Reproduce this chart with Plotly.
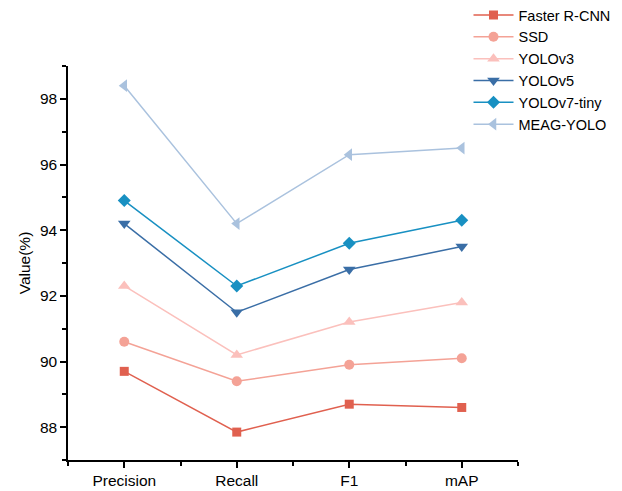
import plotly.graph_objects as go

categories = ["Precision", "Recall", "F1", "mAP"]
faster_rcnn = [89.7, 87.85, 88.7, 88.6]
ssd = [90.6, 89.4, 89.9, 90.1]
yolov3 = [92.3, 90.2, 91.2, 91.8]
yolov5 = [94.2, 91.5, 92.8, 93.5]
yolov7_tiny = [94.9, 92.3, 93.6, 94.3]
meag_yolo = [98.4, 94.2, 96.3, 96.5]

series = [
    ("Faster R-CNN", faster_rcnn, "#E0604F", "square", 9),
    ("SSD", ssd, "#F4A296", "circle", 10),
    ("YOLOv3", yolov3, "#FBC0BC", "triangle-up", 11),
    ("YOLOv5", yolov5, "#3A6EA6", "triangle-down", 11),
    ("YOLOv7-tiny", yolov7_tiny, "#1890C2", "diamond", 10),
    ("MEAG-YOLO", meag_yolo, "#AAC2DE", "triangle-left", 11),
]

xs = list(range(len(categories)))
fig = go.Figure()
for name, vals, color, sym, sz in series:
    fig.add_trace(go.Scatter(
        x=xs, y=vals, name=name, mode="lines+markers",
        line=dict(color=color, width=1.5),
        marker=dict(symbol=sym, size=sz, color=color),
    ))

FONT = "Liberation Sans, Arial"
axis_common = dict(
    showline=True, linecolor="black", linewidth=1.5, mirror=False,
    ticks="outside", ticklen=6, tickwidth=1.5, tickcolor="black",
    showgrid=False, zeroline=False, automargin=False,
    tickfont=dict(family=FONT, size=15.5, color="black"),
)

fig.update_layout(
    width=622, height=491,
    margin=dict(l=68, r=104, t=66, b=31, autoexpand=False),
    plot_bgcolor="white", paper_bgcolor="white",
    font=dict(family=FONT, size=15.5, color="black"),
    xaxis=dict(
        **axis_common,
        range=[-0.5, 3.5], tickvals=xs, ticktext=categories,
        minor=dict(ticks="outside", ticklen=4, tickwidth=1.5, tickcolor="black",
                   tick0=-0.5, dtick=1, showgrid=False),
    ),
    yaxis=dict(
        **axis_common,
        range=[87, 99], tick0=88, dtick=2,
        title=dict(text="Value(%)", font=dict(size=15.5), standoff=5),
        minor=dict(ticks="outside", ticklen=4, tickwidth=1.5, tickcolor="black",
                   tick0=87, dtick=2, showgrid=False),
    ),
    legend=dict(
        x=0.89, y=1.17, xanchor="left", yanchor="top",
        bgcolor="rgba(0,0,0,0)", font=dict(size=14.5),
        tracegroupgap=0, itemwidth=40,
    ),
    showlegend=True,
)

fig.write_html("out.html", config={"displayModeBar": False},
               post_script="document.body.style.margin='0';")
